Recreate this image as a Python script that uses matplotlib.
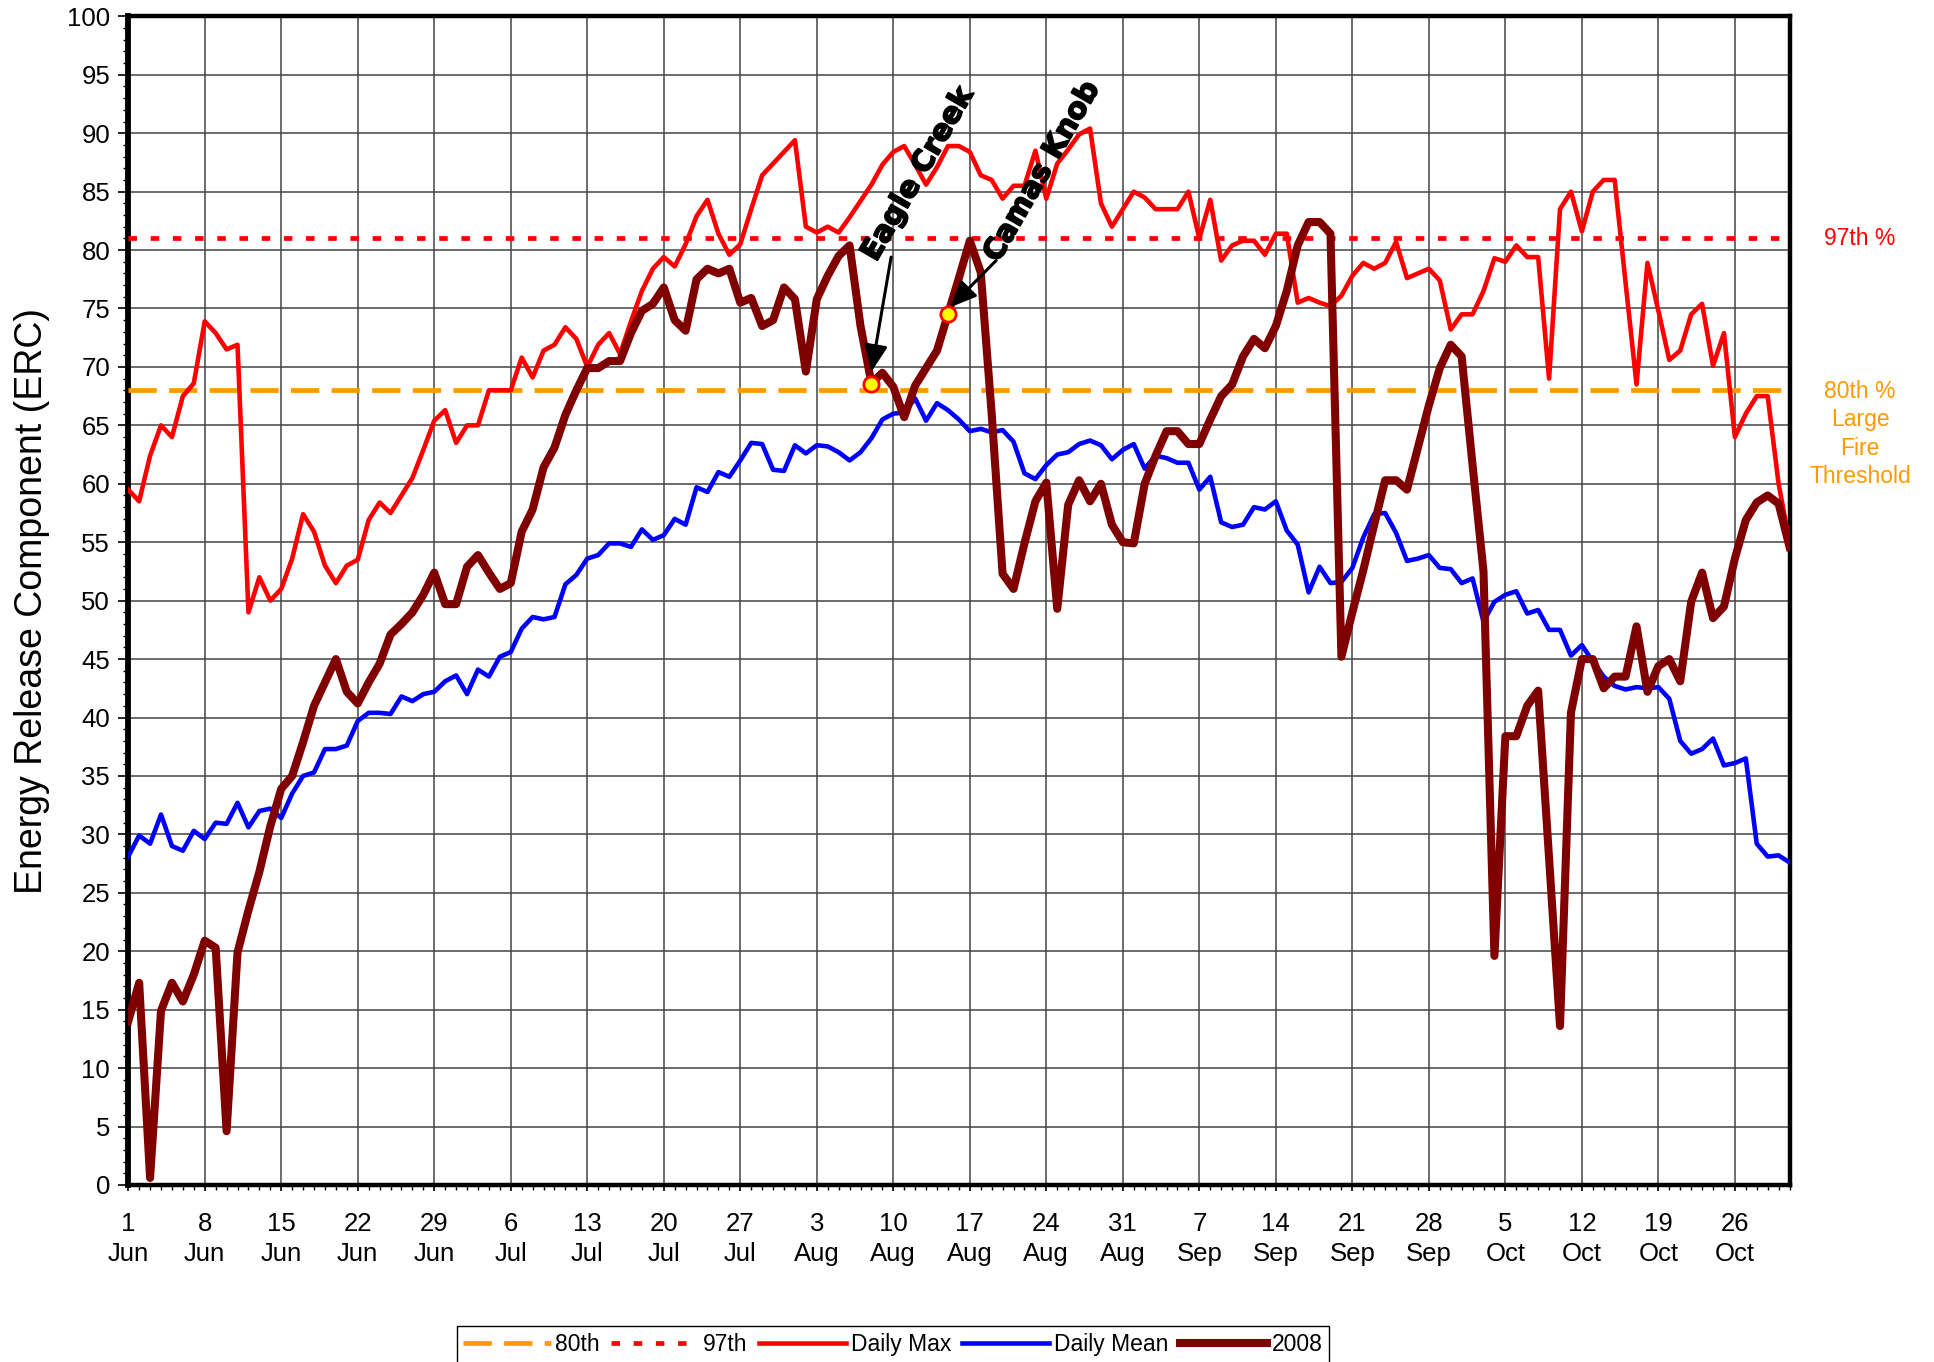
import numpy as np
import matplotlib
matplotlib.use("Agg")
import matplotlib.pyplot as plt
from matplotlib.ticker import MultipleLocator
import matplotlib.patheffects as pe

plt.rcParams['font.family'] = ['Liberation Sans', 'DejaVu Sans']

# ERC values, one per day from 1 Jun to 31 Oct
daily_max = [59.5, 58.5, 62.4, 65, 64, 67.5, 68.6, 73.9, 72.9, 71.5,
             71.9, 49, 52, 50, 51, 53.6, 57.4, 55.9, 53, 51.5,
             53, 53.5, 56.9, 58.4, 57.5, 59, 60.5, 62.9, 65.4, 66.3,
             63.5, 65, 65, 68, 68, 68, 70.8, 69.1, 71.4, 71.9,
             73.4, 72.4, 70, 71.9, 72.9, 71.1, 73.9, 76.5, 78.4, 79.4,
             78.6, 80.5, 82.9, 84.3, 81.4, 79.6, 80.5, 83.5, 86.4, 87.4,
             88.4, 89.4, 82, 81.5, 82, 81.5, 82.8, 84.2, 85.6, 87.3,
             88.4, 88.9, 87.3, 85.6, 87.1, 88.9, 88.9, 88.4, 86.4, 86,
             84.4, 85.5, 85.5, 88.5, 84.4, 87.4, 88.6, 89.9, 90.4, 84,
             82, 83.5, 85, 84.5, 83.5, 83.5, 83.5, 85, 81, 84.3,
             79.1, 80.4, 80.8, 80.8, 79.6, 81.4, 81.4, 75.5, 75.9, 75.5,
             75.2, 76.1, 77.8, 78.9, 78.4, 78.9, 80.7, 77.6, 78, 78.4,
             77.4, 73.2, 74.5, 74.5, 76.5, 79.3, 79, 80.4, 79.4, 79.4,
             69, 83.5, 85, 81.6, 85, 86, 86, 77.2, 68.5, 78.9,
             74.8, 70.6, 71.4, 74.5, 75.4, 70.1, 72.9, 64, 66, 67.5,
             67.5, 60, 55]

daily_mean = [28.1, 29.9, 29.2, 31.7, 29, 28.6, 30.3, 29.6, 31, 30.9,
              32.7, 30.6, 32, 32.2, 31.4, 33.5, 35, 35.3, 37.3, 37.3,
              37.6, 39.7, 40.4, 40.4, 40.3, 41.8, 41.4, 42, 42.2, 43.1,
              43.6, 42, 44.1, 43.5, 45.2, 45.6, 47.6, 48.6, 48.4, 48.6,
              51.4, 52.2, 53.6, 53.9, 54.9, 54.9, 54.6, 56.1, 55.2, 55.6,
              57, 56.5, 59.7, 59.3, 61, 60.6, 62, 63.5, 63.4, 61.2,
              61.1, 63.3, 62.6, 63.3, 63.2, 62.7, 62, 62.7, 63.9, 65.5,
              66, 66.1, 67.3, 65.4, 66.9, 66.3, 65.5, 64.5, 64.7, 64.4,
              64.6, 63.6, 60.9, 60.4, 61.6, 62.5, 62.7, 63.4, 63.7, 63.3,
              62.1, 62.9, 63.4, 61.3, 62.4, 62.2, 61.8, 61.8, 59.5, 60.6,
              56.7, 56.3, 56.5, 58, 57.8, 58.5, 56, 54.8, 50.7, 52.9,
              51.5, 51.6, 52.8, 55.4, 57.4, 57.5, 55.8, 53.4, 53.6, 53.9,
              52.8, 52.7, 51.5, 51.9, 48.2, 49.9, 50.5, 50.8, 48.9, 49.2,
              47.5, 47.5, 45.3, 46.2, 44.8, 43.5, 42.7, 42.4, 42.6, 42.5,
              42.6, 41.6, 38, 36.9, 37.3, 38.2, 35.9, 36.1, 36.5, 29.2,
              28.1, 28.2, 27.6]

erc_2008 = [14, 17.3, 0.6, 14.9, 17.3, 15.7, 18, 20.9, 20.3, 4.6,
            19.9, 23.5, 26.8, 30.7, 33.9, 35, 37.9, 41, 43, 45,
            42.2, 41.2, 43, 44.6, 47.1, 48, 49, 50.5, 52.4, 49.7,
            49.7, 52.9, 53.9, 52.4, 51, 51.5, 55.9, 57.8, 61.4, 63.1,
            65.9, 68, 69.9, 69.9, 70.5, 70.5, 72.9, 74.8, 75.4, 76.8,
            74, 73.1, 77.5, 78.4, 78, 78.4, 75.5, 75.9, 73.5, 74,
            76.8, 75.8, 69.6, 75.8, 77.8, 79.5, 80.4, 73.5, 68.6, 69.5,
            68.3, 65.7, 68.4, 69.9, 71.4, 74.5, 77.6, 80.8, 78.1, 66,
            52.3, 51, 54.9, 58.5, 60.1, 49.3, 58.2, 60.3, 58.5, 60,
            56.5, 55, 54.9, 60, 62.4, 64.5, 64.5, 63.4, 63.4, 65.5,
            67.5, 68.5, 70.9, 72.4, 71.6, 73.5, 76.5, 80.4, 82.4, 82.4,
            81.4, 45.2, 49, 52.6, 56.5, 60.3, 60.3, 59.5, 63.1, 66.7,
            69.9, 71.9, 70.9, 61.6, 52.5, 19.6, 38.4, 38.4, 41, 42.3,
            28, 13.6, 40.4, 45, 45, 42.5, 43.5, 43.5, 47.8, 42.2,
            44.4, 45, 43.1, 49.9, 52.4, 48.5, 49.5, 53.6, 56.9, 58.4,
            59, 58.3, 54.6]

pct_80 = 68
pct_97 = 81

tick_labels = ['1\nJun', '8\nJun', '15\nJun', '22\nJun', '29\nJun', '6\nJul',
               '13\nJul', '20\nJul', '27\nJul', '3\nAug', '10\nAug', '17\nAug',
               '24\nAug', '31\nAug', '7\nSep', '14\nSep', '21\nSep', '28\nSep',
               '5\nOct', '12\nOct', '19\nOct', '26\nOct']

# fire starts: (name, day index, ERC)
fires = [('Eagle Creek', 68, 68.5), ('Camas Knob', 75, 74.5)]

days = np.arange(len(daily_max))

fig = plt.figure(figsize=(19.34, 13.62), dpi=100)
ax = fig.add_axes([0.0663, 0.130, 0.859, 0.858])

ax.axhline(pct_80, color='#FF9900', lw=3.4, dashes=(6, 2.6), label='80th', zorder=3)
ax.axhline(pct_97, color='#FF0000', lw=3.4, dashes=(1.8, 2.9), label='97th', zorder=3)
ax.plot(days, daily_max, color='#FF0000', lw=3.3, label='Daily Max', zorder=4)
ax.plot(days, daily_mean, color='#0000FF', lw=3.3, label='Daily Mean', zorder=4)
ax.plot(days, erc_2008, color='#800000', lw=5.8, label='2008', zorder=5)

for name, d, v in fires:
    ax.plot(d, v, 'o', ms=11, mfc='#FFFF00', mec='#FF0000', mew=2, zorder=7)

# fire labels + arrows
stroke = [pe.withStroke(linewidth=1.3, foreground='black')]
ax.text(72.25, 86.5, 'Eagle Creek', rotation=60, rotation_mode='anchor',
        ha='center', va='center', fontsize=21, fontweight='heavy',
        family='DejaVu Sans', color='black', path_effects=stroke, zorder=8)
ax.text(83.6, 86.7, 'Camas Knob', rotation=60, rotation_mode='anchor',
        ha='center', va='center', fontsize=21, fontweight='heavy',
        family='DejaVu Sans', color='black', path_effects=stroke, zorder=8)
arrow = dict(arrowstyle='-|>,head_length=0.8,head_width=0.35', color='black',
             lw=2.2, mutation_scale=20, shrinkA=0, shrinkB=0)
ax.annotate('', xy=(68.0, 69.6), xytext=(69.8, 79.4), arrowprops=arrow, zorder=8)
ax.annotate('', xy=(75.2, 75.1), xytext=(79.4, 79.1), arrowprops=arrow, zorder=8)

ax.set_xlim(0, len(daily_max) - 1)
ax.set_ylim(0, 100)
ax.set_xticks(np.arange(0, len(daily_max), 7))
ax.set_xticklabels(tick_labels)
ax.xaxis.set_minor_locator(MultipleLocator(1))
ax.yaxis.set_major_locator(MultipleLocator(5))
ax.yaxis.set_minor_locator(MultipleLocator(1))
ax.tick_params(axis='x', which='major', direction='out', length=4.5, width=1.2,
               labelsize=18.5, pad=15)
ax.tick_params(axis='x', which='minor', direction='out', length=3.5, width=1)
ax.tick_params(axis='y', which='major', direction='out', length=7, width=1.2,
               labelsize=18.5, pad=6)
ax.tick_params(axis='y', which='minor', direction='out', length=3.5, width=1)
for lbl in ax.get_xticklabels():
    lbl.set_linespacing(1.3)

ax.grid(True, which='major', color='#444444', lw=1.1)
ax.set_axisbelow(True)
for side in ['top', 'right', 'bottom']:
    ax.spines[side].set_linewidth(3.2)
ax.spines['left'].set_linewidth(4.2)

ax.set_ylabel('Energy Release Component (ERC)', fontsize=27, labelpad=12)

# threshold labels on the right
ax.text(1.0424, pct_97, '97th %', transform=ax.get_yaxis_transform(),
        ha='center', va='center', fontsize=16.5, color='#FF0000')
ax.text(1.0424, pct_80 + 0.9, '80th %\nLarge\nFire\nThreshold',
        transform=ax.get_yaxis_transform(), ha='center', va='top',
        fontsize=16.5, color='#FF9900', linespacing=1.3)

leg = ax.legend(loc='upper center', bbox_to_anchor=(0.4617, 0.0264),
                bbox_transform=fig.transFigure, ncol=5, fontsize=16.5,
                handlelength=3.8, handletextpad=0.2, columnspacing=0.5,
                borderpad=0.3, borderaxespad=0, fancybox=False,
                framealpha=1, edgecolor='black')
leg.get_frame().set_linewidth(1)

fig.savefig('out.png', dpi=100)
